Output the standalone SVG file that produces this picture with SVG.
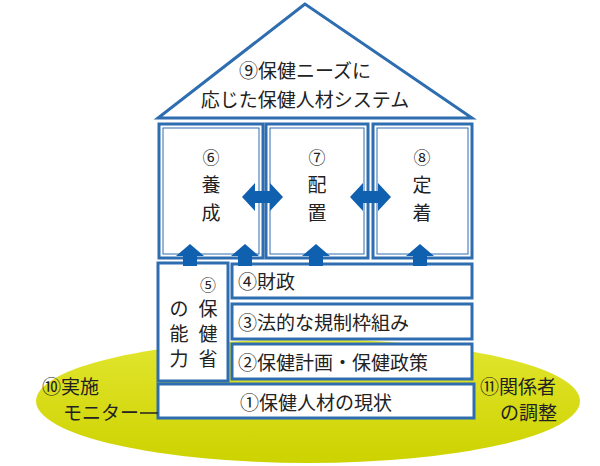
<svg xmlns="http://www.w3.org/2000/svg" width="600" height="466" viewBox="0 0 600 466">
<defs>
<linearGradient id="g" x1="0" y1="0" x2="0" y2="1"><stop offset="0" stop-color="#e2e630"/><stop offset="1" stop-color="#cdd200"/></linearGradient>
<style>
.b{fill:#fff;stroke:#2e6db0;stroke-width:3}
.i{fill:none;stroke:#2e6db0;stroke-width:1}
text{font-family:"Noto Sans CJK JP","Noto Sans",sans-serif;fill:#222}
.a{fill:#1060b0}
</style>
</defs>
<ellipse cx="308" cy="401" rx="272" ry="62" fill="url(#g)"/>
<g id="roof"><polygon class="b" points="305,4 158,118 472,118"/>
<text x="305" y="78" font-size="19" text-anchor="middle">⑨保健ニーズに</text>
<text x="305" y="107" font-size="19" text-anchor="middle">応じた保健人材システム</text></g>
<g id="n6"><rect class="b" x="159" y="124" width="104" height="134"/><rect class="i" x="163" y="128" width="96" height="126"/>
<text x="211" y="164" font-size="17" text-anchor="middle">⑥</text><text x="211" y="192" font-size="19" text-anchor="middle">養</text><text x="211" y="220" font-size="19" text-anchor="middle">成</text></g>
<g id="n7"><rect class="b" x="266" y="124" width="102" height="134"/><rect class="i" x="270" y="128" width="94" height="126"/>
<text x="317" y="164" font-size="17" text-anchor="middle">⑦</text><text x="317" y="192" font-size="19" text-anchor="middle">配</text><text x="317" y="220" font-size="19" text-anchor="middle">置</text></g>
<g id="n8"><rect class="b" x="373" y="124" width="99" height="134"/><rect class="i" x="377" y="128" width="91" height="126"/>
<text x="422" y="164" font-size="17" text-anchor="middle">⑧</text><text x="422" y="192" font-size="19" text-anchor="middle">定</text><text x="422" y="220" font-size="19" text-anchor="middle">着</text></g>
<g id="n5"><rect class="b" x="158" y="263" width="70" height="118"/>
<text x="208" y="291" font-size="16" text-anchor="middle">⑤</text><text x="208" y="316" font-size="19" text-anchor="middle">保</text><text x="208" y="341" font-size="19" text-anchor="middle">健</text><text x="208" y="366" font-size="19" text-anchor="middle">省</text>
<text x="179" y="316" font-size="19" text-anchor="middle">の</text><text x="179" y="341" font-size="19" text-anchor="middle">能</text><text x="179" y="366" font-size="19" text-anchor="middle">力</text></g>
<g id="n4"><rect class="b" x="232" y="264" width="240" height="34"/><text x="238" y="289" font-size="19">④財政</text></g>
<g id="n3"><rect class="b" x="232" y="304" width="240" height="35"/><text x="238" y="330" font-size="19">③法的な規制枠組み</text></g>
<g id="n2"><rect class="b" x="232" y="344" width="240" height="35"/><text x="238" y="370" font-size="19">②保健計画・保健政策</text></g>
<g id="n1"><rect class="b" x="158" y="384" width="316" height="34"/><text x="316" y="410" font-size="19" text-anchor="middle">①保健人材の現状</text></g>
<g id="n10"><text x="42" y="394" font-size="19">⑩実施</text><text x="63" y="420" font-size="19">モニター</text></g>
<g id="n11"><text x="480" y="394" font-size="19">⑪関係者</text><text x="500" y="420" font-size="19">の調整</text></g>
<g id="connectors">
<line x1="140" y1="413" x2="158" y2="413" stroke="#222" stroke-width="1.5"/>
<g class="a">
<polygon points="183,266 183,256 176,256 190,244 204,256 197,256 197,266"/>
<polygon points="238,266 238,256 231,256 245,244 259,256 252,256 252,266"/>
<polygon points="309,266 309,256 302,256 316,244 330,256 323,256 323,266"/>
<polygon points="413,266 413,256 406,256 420,244 434,256 427,256 427,266"/>
<polygon points="242,197 255,183 255,191 270,191 270,183 283,197 270,211 270,203 255,203 255,211"/>
<polygon points="350,197 363,183 363,191 378,191 378,183 391,197 378,211 378,203 363,203 363,211"/>
</g></g>
</svg>
